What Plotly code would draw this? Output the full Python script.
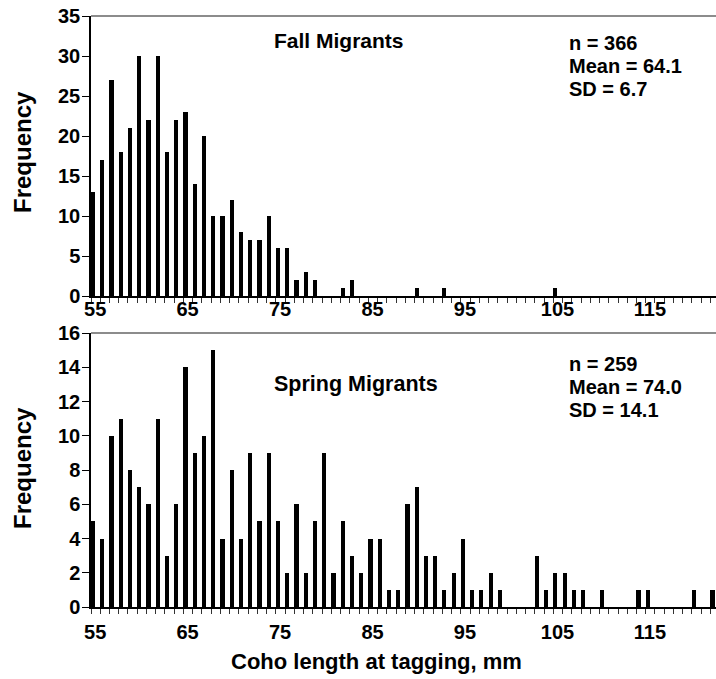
import plotly.graph_objects as go

# ---- data ----
fall_length = [55, 56, 57, 58, 59, 60, 61, 62, 63, 64, 65, 66, 67, 68, 69, 70, 71, 72, 73, 74,
               75, 76, 77, 78, 79, 82, 83, 90, 93, 105]
fall_count = [13, 17, 27, 18, 21, 30, 22, 30, 18, 22, 23, 14, 20, 10, 10, 12, 8, 7, 7, 10,
              6, 6, 2, 3, 2, 1, 2, 1, 1, 1]

spring_length = [55, 56, 57, 58, 59, 60, 61, 62, 63, 64, 65, 66, 67, 68, 69, 70, 71, 72, 73, 74,
                 75, 76, 77, 78, 79, 80, 81, 82, 83, 84, 85, 86, 87, 88, 89, 90, 91, 92, 93, 94,
                 95, 96, 97, 98, 99, 103, 104, 105, 106, 107, 108, 110, 114, 115, 120, 122]
spring_count = [5, 4, 10, 11, 8, 7, 6, 11, 3, 6, 14, 9, 10, 15, 4, 8, 4, 9, 5, 9,
                5, 2, 6, 2, 5, 9, 2, 5, 3, 2, 4, 4, 1, 1, 6, 7, 3, 3, 1, 2,
                4, 1, 1, 2, 1, 3, 1, 2, 2, 1, 1, 1, 1, 1, 1, 1]

tick_labels = [55, 65, 75, 85, 95, 105, 115]
fall_stats = ["n = 366", "Mean = 64.1", "SD = 6.7"]
spring_stats = ["n = 259", "Mean = 74.0", "SD = 14.1"]

# ---- style ----
BAR_W = 0.45
FONT = "Liberation Sans, Arial, sans-serif"
W, H = 716, 679
# page-pixel layout
PX_L, PX_R = 91, 716
TOP1, BOT1 = 16, 296
TOP2, BOT2 = 333, 607
L, R, T, B = PX_L, W - PX_R, TOP1, H - BOT2
PW = W - L - R
PH = H - T - B
top_dom = [(BOT2 - BOT1) / PH, 1.0]
bot_dom = [0.0, (BOT2 - TOP2) / PH]

def px_x(px):   # page x -> paper x
    return (px - PX_L) / PW

def px_y(py):   # page y -> paper y
    return (BOT2 - py) / PH

fig = go.Figure()
fig.add_trace(go.Bar(x=fall_length, y=fall_count, width=BAR_W, offset=0,
                     marker=dict(color="black", line=dict(width=0)), xaxis="x", yaxis="y"))
fig.add_trace(go.Bar(x=spring_length, y=spring_count, width=BAR_W, offset=0,
                     marker=dict(color="black", line=dict(width=0)), xaxis="x2", yaxis="y2"))

label_pos = [v + BAR_W for v in tick_labels]

def xax(domain_anchor, standoff):
    return dict(
        range=[55, 122.6], showgrid=False, zeroline=False, automargin=False,
        showline=True, linecolor="black", linewidth=1.5,
        tickmode="array", tickvals=label_pos, ticktext=[str(v) for v in tick_labels],
        ticks="", ticklabelstandoff=standoff, ticklabeloverflow="allow",
        tickfont=dict(family=FONT, size=20, color="black", weight="bold"),
        minor=dict(tickmode="linear", tick0=55, dtick=1, ticks="outside", ticklen=5,
                   tickcolor="#333", tickwidth=1),
        anchor=domain_anchor, domain=[0, 1],
    )

def yax(rng, dtick, dom, anchor):
    return dict(
        range=rng, dtick=dtick, domain=dom, anchor=anchor, automargin=False,
        showgrid=False, zeroline=False, showline=True, linecolor="black", linewidth=1.5,
        ticks="outside", ticklen=7, tickcolor="black", tickwidth=1.2,
        ticklabelstandoff=-2, ticklabeloverflow="allow",
        tickfont=dict(family=FONT, size=20, color="black", weight="bold"),
    )

fig.update_layout(
    width=W, height=H, margin=dict(l=L, r=R, t=T, b=B, autoexpand=False),
    paper_bgcolor="white", plot_bgcolor="white", showlegend=False,
    bargap=0,
    xaxis=xax("y", -6),
    yaxis=yax([0, 35], 5, top_dom, "x"),
    xaxis2=xax("y2", 6),
    yaxis2=yax([0, 16], 2, bot_dom, "x2"),
)

# top border lines of each plot
for xr, yr in [("x domain", "y domain"), ("x2 domain", "y2 domain")]:
    fig.add_shape(type="line", xref=xr, yref=yr, x0=0, x1=1, y0=1, y1=1,
                  line=dict(color="#666", width=1.5))

def f(size):
    return dict(family=FONT, size=size, color="black", weight="bold")

ann = []
ann.append(dict(text="Fall Migrants", xref="paper", yref="paper",
                x=px_x(272), y=px_y(40), xanchor="left", yanchor="middle",
                showarrow=False, font=f(21)))
ann.append(dict(text="Spring Migrants", xref="paper", yref="paper",
                x=px_x(272), y=px_y(384), xanchor="left", yanchor="middle",
                showarrow=False, font=f(21.5)))
for i, s in enumerate(fall_stats):
    ann.append(dict(text=s, xref="paper", yref="paper",
                    x=px_x(567), y=px_y(43 + 23 * i),
                    xanchor="left", yanchor="middle", showarrow=False, font=f(20)))
for i, s in enumerate(spring_stats):
    ann.append(dict(text=s, xref="paper", yref="paper",
                    x=px_x(567), y=px_y(364 + 23 * i),
                    xanchor="left", yanchor="middle", showarrow=False, font=f(20)))
ann.append(dict(text="Frequency", xref="paper", yref="paper",
                x=px_x(22), y=px_y(152), textangle=-90,
                xanchor="center", yanchor="middle", showarrow=False, font=f(24)))
ann.append(dict(text="Frequency", xref="paper", yref="paper",
                x=px_x(22), y=px_y(468), textangle=-90,
                xanchor="center", yanchor="middle", showarrow=False, font=f(24)))
ann.append(dict(text="Coho length at tagging, mm", xref="paper", yref="paper",
                x=px_x(376), y=px_y(661),
                xanchor="center", yanchor="middle", showarrow=False, font=f(22)))
fig.update_layout(annotations=ann)

fig.write_html("out.html", config={"displayModeBar": False},
               post_script="document.body.style.margin='0';document.body.style.overflow='hidden';")
